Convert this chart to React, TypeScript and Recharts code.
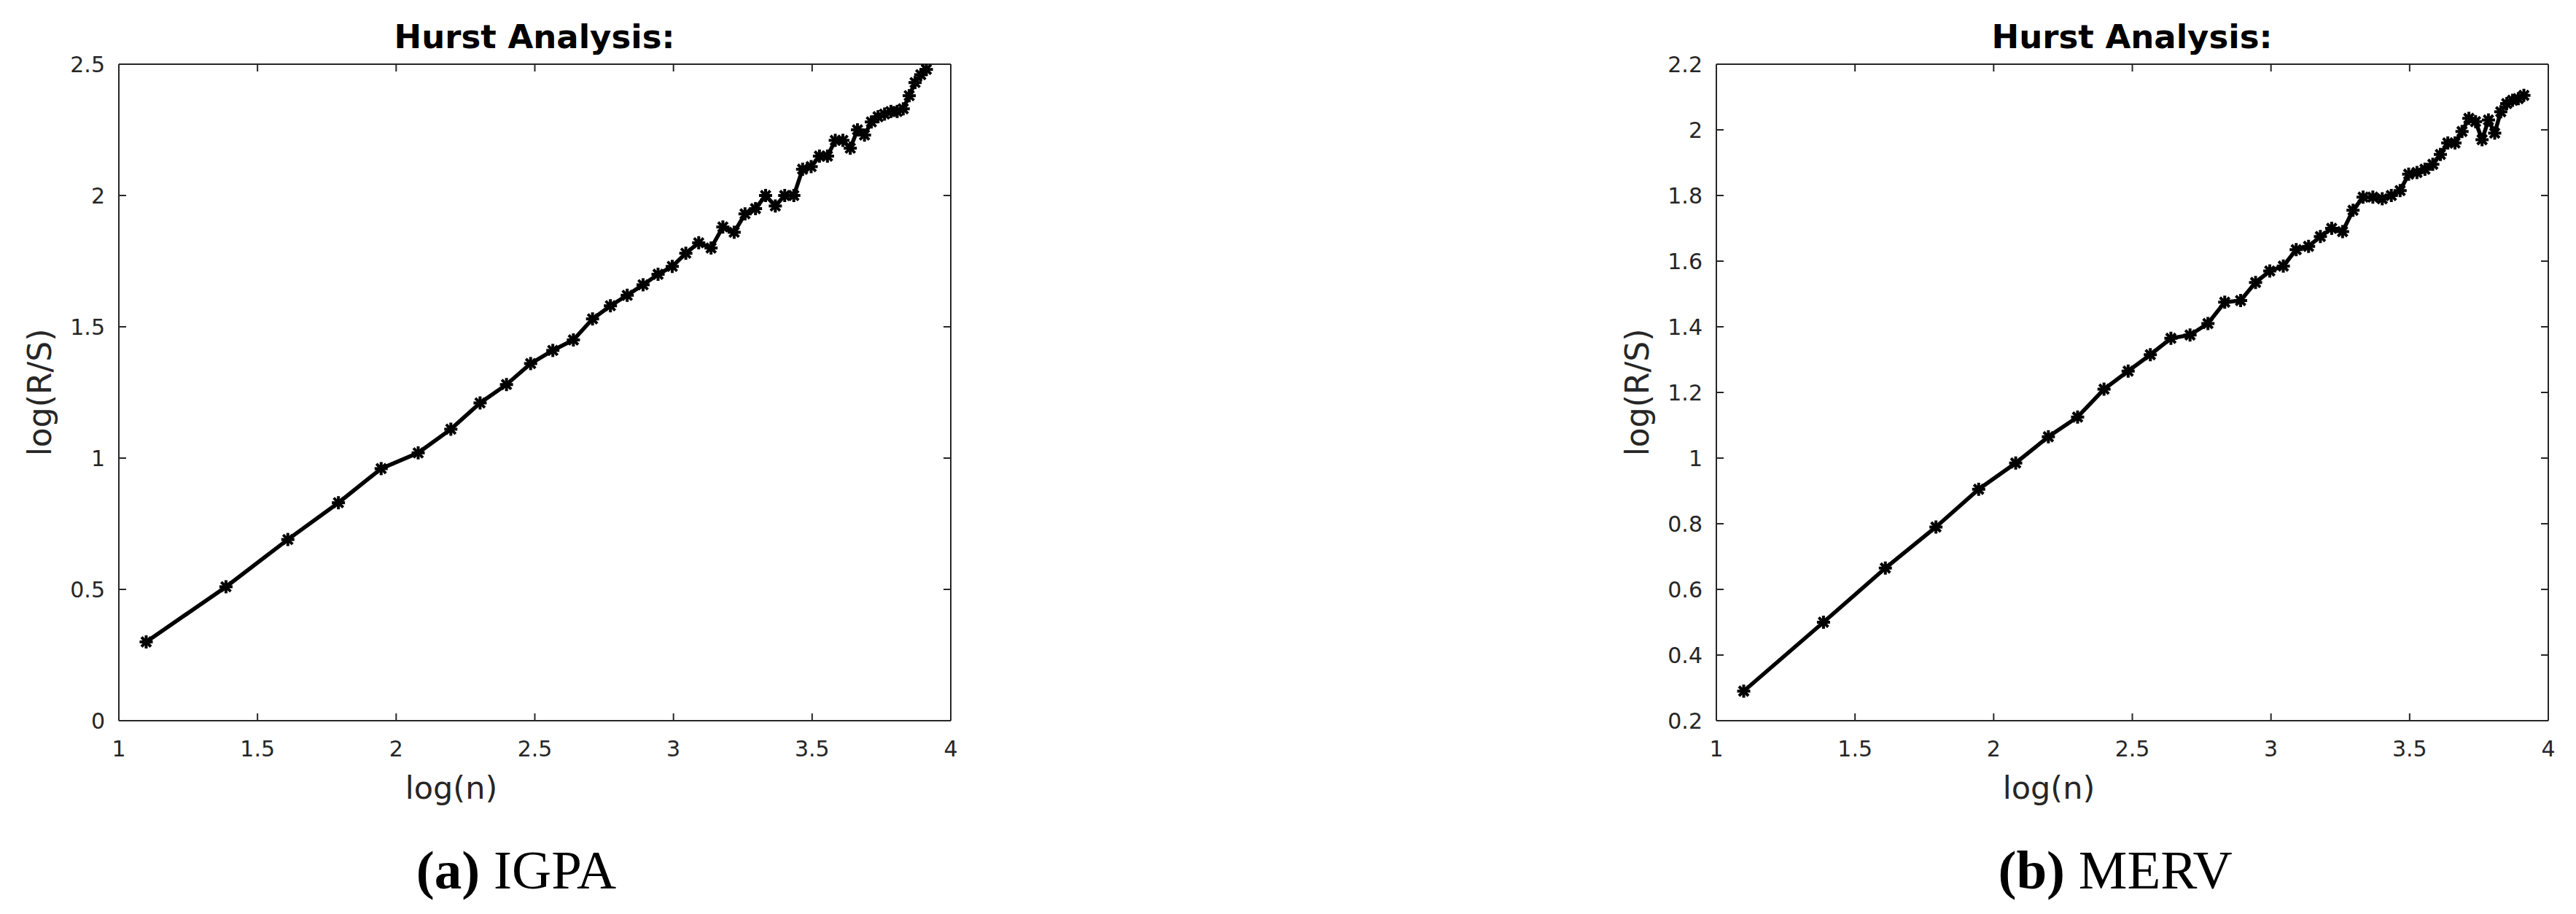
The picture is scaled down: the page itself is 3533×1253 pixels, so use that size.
import React from 'react';
import { LineChart, Line, XAxis, YAxis } from 'recharts';

// log(n), n = 3..50
const logN = [
  1.0986, 1.3863, 1.6094, 1.7918, 1.9459, 2.0794, 2.1972, 2.3026, 2.3979, 2.4849,
  2.5649, 2.6391, 2.7081, 2.7726, 2.8332, 2.8904, 2.9444, 2.9957, 3.0445, 3.0910,
  3.1355, 3.1781, 3.2189, 3.2581, 3.2958, 3.3322, 3.3673, 3.4012, 3.4340, 3.4657,
  3.4965, 3.5264, 3.5553, 3.5835, 3.6109, 3.6376, 3.6636, 3.6889, 3.7136, 3.7377,
  3.7612, 3.7842, 3.8067, 3.8286, 3.8501, 3.8712, 3.8918, 3.9120,
];

const igpaRS = [
  0.30, 0.51, 0.69, 0.83, 0.96, 1.02, 1.11, 1.21, 1.28, 1.36,
  1.41, 1.45, 1.53, 1.58, 1.62, 1.66, 1.70, 1.73, 1.78, 1.82,
  1.80, 1.88, 1.86, 1.93, 1.95, 2.00, 1.96, 2.00, 2.00, 2.10,
  2.11, 2.15, 2.15, 2.21, 2.21, 2.18, 2.25, 2.23, 2.28, 2.30,
  2.31, 2.32, 2.32, 2.33, 2.38, 2.43, 2.46, 2.48,
];

const mervRS = [
  0.29, 0.50, 0.665, 0.79, 0.905, 0.985, 1.065, 1.125, 1.21, 1.265,
  1.315, 1.365, 1.375, 1.41, 1.475, 1.48, 1.535, 1.57, 1.585, 1.635,
  1.645, 1.675, 1.70, 1.69, 1.755, 1.795, 1.795, 1.79, 1.80, 1.815,
  1.865, 1.87, 1.88, 1.895, 1.925, 1.96, 1.96, 1.995, 2.035, 2.025,
  1.97, 2.03, 1.99, 2.055, 2.08, 2.09, 2.095, 2.105,
];

const xTicks = [1, 1.5, 2, 2.5, 3, 3.5, 4];
const igpaYTicks = [0, 0.5, 1, 1.5, 2, 2.5];
const mervYTicks = [0.2, 0.4, 0.6, 0.8, 1, 1.2, 1.4, 1.6, 1.8, 2, 2.2];

const AXIS = '#262626';
const SANS = "'DejaVu Sans', sans-serif";
const SERIF = "'Liberation Serif', 'Times New Roman', serif";

const Star = (props: any) => {
  const { cx, cy, index } = props;
  if (cx == null || cy == null) return <g key={`s${index}`} />;
  const r = 9;
  const d = 6.5;
  return (
    <g key={`s${index}`} stroke="#000" strokeWidth={4}>
      <line x1={cx - r} y1={cy} x2={cx + r} y2={cy} />
      <line x1={cx} y1={cy - r} x2={cx} y2={cy + r} />
      <line x1={cx - d} y1={cy - d} x2={cx + d} y2={cy + d} />
      <line x1={cx - d} y1={cy + d} x2={cx + d} y2={cy - d} />
    </g>
  );
};

const Empty = () => <g />;

function Panel({ ys, yTicks, yDomain }: { ys: number[]; yTicks: number[]; yDomain: [number, number] }) {
  const data = logN.map((x, i) => ({ x, y: ys[i] }));
  const lineStyle = { stroke: AXIS, strokeWidth: 2 };
  const tickStyle = { fill: AXIS, fontSize: 30, fontFamily: SANS };
  return (
    <LineChart width={1400} height={1253} data={data} margin={{ top: 87, right: 95, bottom: 205, left: 0 }}>
      <XAxis
        xAxisId="b"
        dataKey="x"
        type="number"
        domain={[1, 4]}
        allowDataOverflow
        ticks={xTicks}
        interval={0}
        height={60}
        orientation="bottom"
        axisLine={lineStyle}
        tickLine={lineStyle}
        tickSize={-10}
        tickMargin={38}
        tick={tickStyle}
      />
      <XAxis
        xAxisId="t"
        dataKey="x"
        type="number"
        domain={[1, 4]}
        allowDataOverflow
        ticks={xTicks}
        interval={0}
        height={1}
        orientation="top"
        axisLine={lineStyle}
        tickLine={lineStyle}
        tickSize={-10}
        tick={Empty}
      />
      <YAxis
        yAxisId="l"
        type="number"
        domain={yDomain}
        allowDataOverflow
        ticks={yTicks}
        interval={0}
        width={163}
        orientation="left"
        axisLine={lineStyle}
        tickLine={lineStyle}
        tickSize={-10}
        tickMargin={29}
        tick={tickStyle}
      />
      <YAxis
        yAxisId="r"
        type="number"
        domain={yDomain}
        allowDataOverflow
        ticks={yTicks}
        interval={0}
        width={1}
        orientation="right"
        axisLine={lineStyle}
        tickLine={lineStyle}
        tickSize={-10}
        tick={Empty}
      />
      <Line
        xAxisId="b"
        yAxisId="l"
        dataKey="y"
        type="linear"
        stroke="#000"
        strokeWidth={5.5}
        dot={Star}
        activeDot={false}
        isAnimationActive={false}
      />
    </LineChart>
  );
}

const SHIFT = 2191;

export default function App() {
  return (
    <div style={{ position: 'absolute', left: 0, top: 0, width: 3533, height: 1253, background: '#fff', overflow: 'hidden' }}>
      <div style={{ position: 'absolute', left: 0, top: 0 }}>
        <Panel ys={igpaRS} yTicks={igpaYTicks} yDomain={[0, 2.5]} />
      </div>
      <div style={{ position: 'absolute', left: SHIFT, top: 0 }}>
        <Panel ys={mervRS} yTicks={mervYTicks} yDomain={[0.2, 2.2]} />
      </div>
      <svg width={3533} height={1253} style={{ position: 'absolute', left: 0, top: 0, pointerEvents: 'none' }}>
        {[0, SHIFT].map((dx, i) => (
          <g key={i}>
            <text x={733 + dx} y={66} textAnchor="middle" fontFamily={SANS} fontWeight="bold" fontSize={45} fill="#000">
              Hurst Analysis:
            </text>
            <text x={619 + dx} y={1095} textAnchor="middle" fontFamily={SANS} fontSize={43} fill={AXIS}>
              log(n)
            </text>
            <text
              x={0}
              y={0}
              transform={`translate(${70 + dx},538) rotate(-90)`}
              textAnchor="middle"
              fontFamily={SANS}
              fontSize={44}
              fill={AXIS}
            >
              log(R/S)
            </text>
          </g>
        ))}
        <text x={708} y={1218} textAnchor="middle" fontFamily={SERIF} fontSize={75} fill="#000">
          <tspan fontWeight="bold">(a)</tspan> IGPA
        </text>
        <text x={2901} y={1218} textAnchor="middle" fontFamily={SERIF} fontSize={75} fill="#000">
          <tspan fontWeight="bold">(b)</tspan> MERV
        </text>
      </svg>
    </div>
  );
}
